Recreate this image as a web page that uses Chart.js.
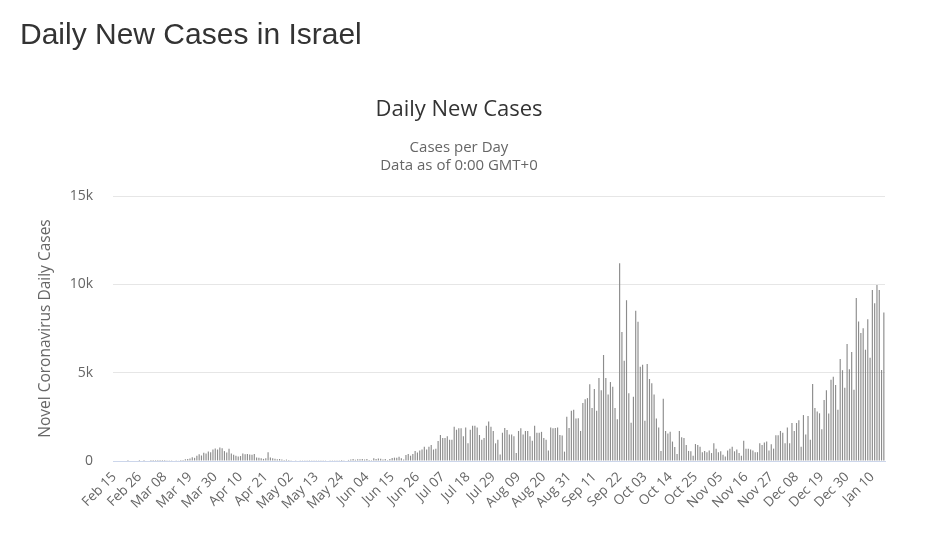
<!DOCTYPE html>
<html><head><meta charset="utf-8">
<script src="https://cdn.jsdelivr.net/npm/chart.js@4.4.0/dist/chart.umd.min.js"></script>
<style>
html,body{margin:0;padding:0;background:#fff;}
#wrap{position:relative;width:940px;height:541px;overflow:hidden;}
#pageTitle{position:absolute;left:20px;top:19px;margin:0;font:normal 30px/30px "Liberation Sans",Arial,sans-serif;color:#333;white-space:nowrap;}
#c{position:absolute;left:0;top:0;}
</style></head><body>
<div id="wrap"><canvas id="c" width="940" height="541"></canvas><h1 id="pageTitle">Daily New Cases in Israel</h1></div>
<script>
// Daily new cases, Feb 15 2020 – Jan 15 2021
const feb2020 = [0,0,0,0,0,0,1,0,0,0,0,1,0,1,0];
const mar2020 = [0,3,2,3,3,5,7,6,12,19,18,25,37,33,50,50,100,112,140,213,180,300,378,312,460,420,540,490,650,710,650];
const apr2020 = [760,720,560,480,690,420,350,300,250,280,420,380,400,370,350,400,200,180,150,120,160,500,200,150,130,100,120,90,60,80];
const may2020 = [60,40,30,20,25,20,15,15,10,10,15,20,10,15,20,10,15,25,20,10,15,20,10,5,10,30,60,80,110,70,100];
const jun2020 = [100,120,90,115,60,50,150,110,140,130,80,120,50,120,170,190,180,240,150,90,340,400,300,400,570,480,600,650,800,650];
const jul2020 = [800,900,650,700,1130,1470,1300,1300,1400,1200,1200,1940,1770,1850,1850,1400,1900,1000,1770,2000,2000,1900,1470,1200,1300,2000,2230,1940,1700,1000,1200];
const aug2020 = [370,1600,1870,1750,1500,1500,1400,450,1700,1850,1500,1700,1700,1400,1150,2000,1600,1600,1650,1300,1200,600,1900,1850,1870,1900,1470,1450,530,2500,1870];
const sep2020 = [2850,2900,2400,2420,1700,3280,3500,3560,4350,3000,4070,2850,4700,4000,6000,4700,3770,4470,4200,3000,2360,11200,7300,5680,9100,3830,2170,3630,8500,7880];
const oct2020 = [5340,5450,2280,5490,4640,4400,3770,2400,1900,570,3530,1700,1560,1660,1100,790,400,1700,1340,1300,900,570,550,300,960,900,800,500,560,500,600];
const nov2020 = [450,1000,700,500,550,350,250,600,700,800,550,650,450,300,1150,700,700,650,600,500,500,1000,900,1050,1100,600,950,700,1460,1460];
const dec2020 = [1700,1600,1000,1890,1000,2150,1700,2150,2300,800,2600,1500,2550,1200,4360,3000,2800,2700,1800,3450,4000,2690,4600,4770,4300,2900,5770,5140,4140,6620,5200];
const jan2021 = [6170,4040,9220,7900,7240,7520,6300,8030,5850,9680,8930,9960,9680,5150,8400];

const tickLabels = ["Feb 15","Feb 26","Mar 08","Mar 19","Mar 30","Apr 10","Apr 21","May 02","May 13","May 24","Jun 04","Jun 15","Jun 26","Jul 07","Jul 18","Jul 29","Aug 09","Aug 20","Aug 31","Sep 11","Sep 22","Oct 03","Oct 14","Oct 25","Nov 05","Nov 16","Nov 27","Dec 08","Dec 19","Dec 30","Jan 10"];
const yTickLabels = {0:"0",5000:"5k",10000:"10k",15000:"15k"};

const dailyCases = [].concat(feb2020,mar2020,apr2020,may2020,jun2020,jul2020,aug2020,sep2020,oct2020,nov2020,dec2020,jan2021);

const monthNames = ["Jan","Feb","Mar","Apr","May","Jun","Jul","Aug","Sep","Oct","Nov","Dec"];
const categories = [];
const start = Date.UTC(2020,1,15);
for (let i = 0; i < dailyCases.length; i++) {
  const d = new Date(start + i*86400000);
  categories.push(monthNames[d.getUTCMonth()] + " " + String(d.getUTCDate()).padStart(2,"0"));
}

const font = '"Open Sans", "Noto Sans", sans-serif';
new Chart(document.getElementById('c'), {
  type: 'bar',
  data: {
    labels: categories,
    datasets: [{
      label: 'Daily Cases',
      data: dailyCases,
      backgroundColor: '#8c8c8c',
      borderWidth: 0,
      barPercentage: 0.5,
      categoryPercentage: 1.0
    }]
  },
  options: {
    responsive: false,
    animation: false,
    layout: { padding: { left: 33, right: 55, top: 0, bottom: 0 } },
    plugins: {
      legend: { display: false },
      tooltip: { enabled: false },
      title: {
        display: true, text: 'Daily New Cases', color: '#333',
        font: { family: font, size: 22, weight: 'normal', lineHeight: 1.2 },
        padding: { top: 96.8, bottom: 15.8 }
      },
      subtitle: {
        display: true, text: ['Cases per Day', 'Data as of 0:00 GMT+0'], color: '#666',
        font: { family: font, size: 15, weight: 'normal', lineHeight: 1.2 },
        padding: { top: 0, bottom: 21 }
      }
    },
    scales: {
      x: {
        grid: { display: false, drawTicks: false },
        border: { display: true, color: '#ccd6eb', width: 1 },
        ticks: {
          autoSkip: false, maxRotation: 45, minRotation: 45, padding: 8,
          color: '#666', font: { family: font, size: 13.5 },
          callback: function(v, i) { const l = categories[i]; return tickLabels.includes(l) ? l : ''; }
        },
        afterFit: function(s) { s.height = 80; }
      },
      y: {
        min: 0, max: 15000,
        grid: { color: '#e6e6e6', drawTicks: false },
        border: { display: false },
        ticks: {
          stepSize: 5000, padding: 20, color: '#666', font: { family: font, size: 14 },
          callback: function(v) { return yTickLabels[v] !== undefined ? yTickLabels[v] : ''; }
        },
        title: {
          display: true, text: 'Novel Coronavirus Daily Cases', color: '#666',
          font: { family: font, size: 15.5, lineHeight: 1.2 },
          padding: { top: 3.7, bottom: 0 }
        },
        afterFit: function(s) { s.width = 80; }
      }
    }
  }
});
</script>
</body></html>
